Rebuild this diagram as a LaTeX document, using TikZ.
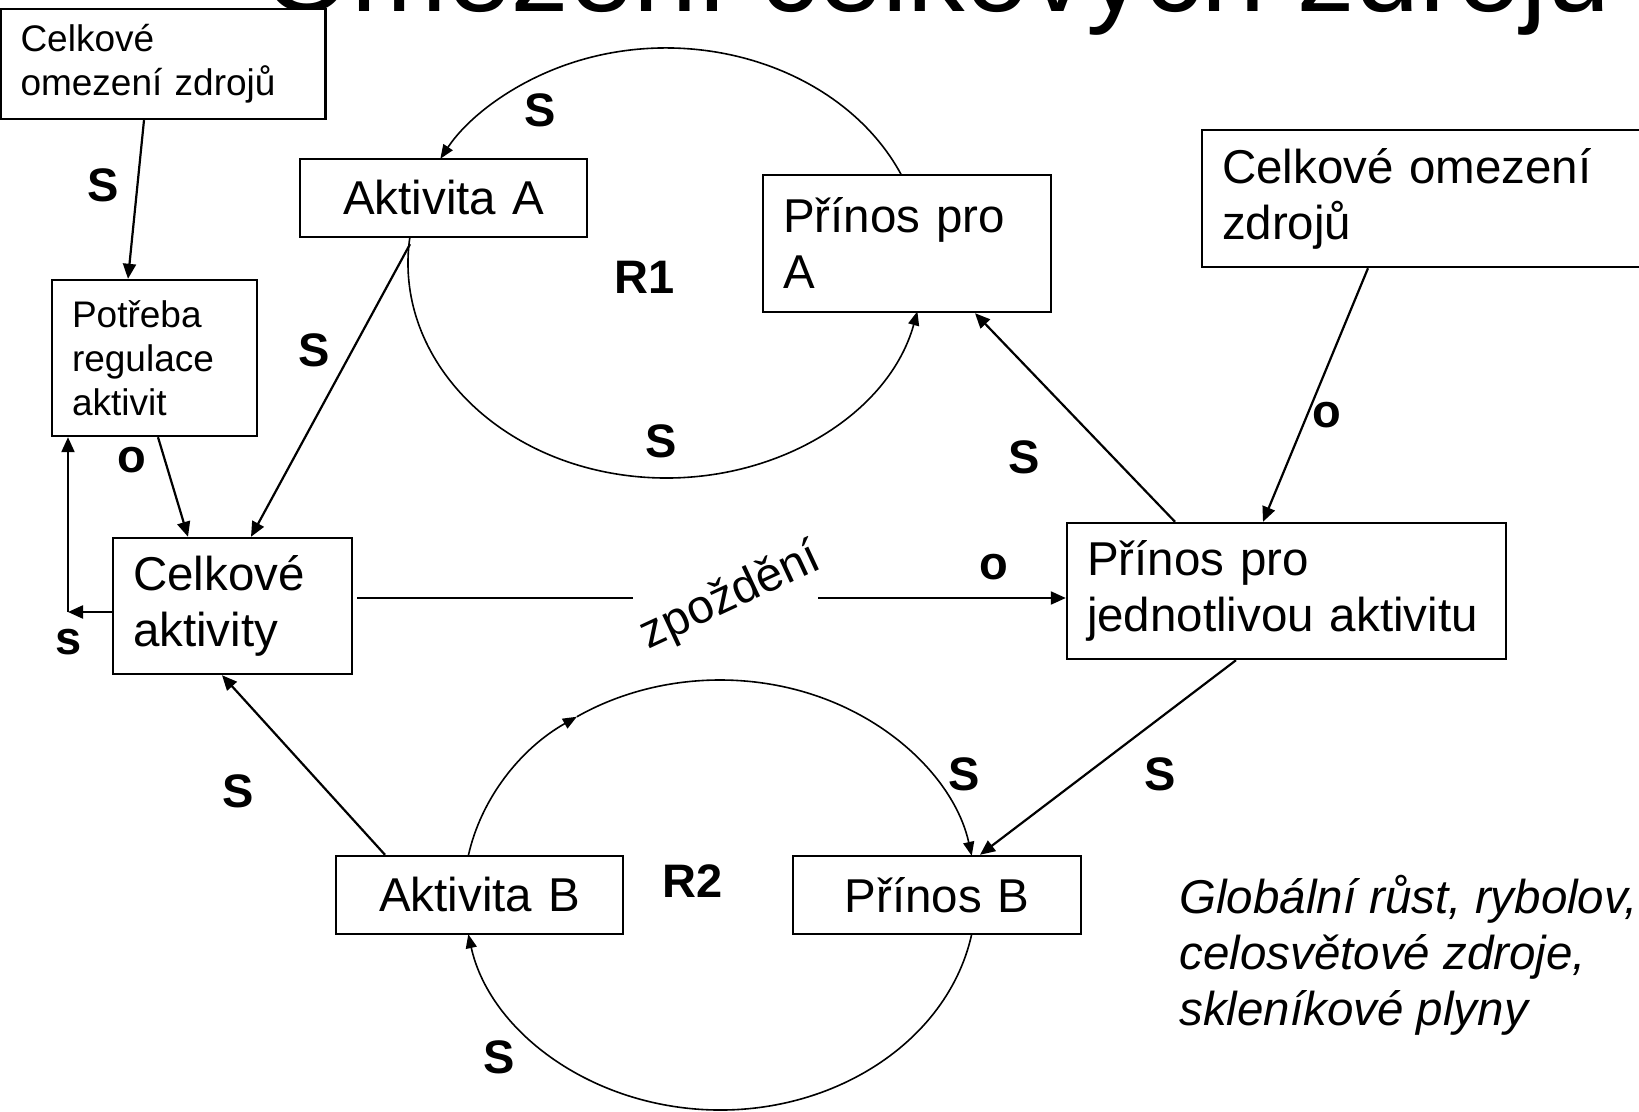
\documentclass[tikz,border=0pt]{standalone}
\usepackage{fontspec}
\setmainfont{Liberation Sans}
\usetikzlibrary{arrows.meta,calc}
\newcommand\mybig{\fontsize{23.75pt}{28pt}\selectfont}
\newcommand\mysmall{\fontsize{18.5pt}{22pt}\selectfont}
\newcommand\mylab{\fontsize{23.5pt}{28pt}\selectfont\bfseries}
\newcommand\mytitle{\fontsize{57.5pt}{60pt}\selectfont}
\begin{document}
\begin{tikzpicture}[x=0.5pt,y=0.5pt,
  box/.style={draw, line width=1.2pt, fill=white, inner xsep=10pt, inner ysep=0pt, align=left},
  cbox/.style={box, align=center},
  lab/.style={font=\mylab, inner sep=0pt},
  conn/.style={line width=1.1pt},
  arr/.style={line width=1.1pt, -{Triangle[length=7.5pt,width=6.5pt]}},
  arcarr/.style={line width=0.8pt, -{Triangle[length=7pt,width=5.5pt]}}]
\useasboundingbox (0,0) rectangle (1639,-1112);
\clip (0,0) rectangle (1639,-1112);
\fill[white] (0,0) rectangle (1639,-1112);

% title (cut off at top)
\node[anchor=base west, inner sep=0pt, font=\mytitle] (title) at (262,-12) {Omezení celkových zdrojů};

% boxes
\node[box, font=\mysmall, text width=142.5pt, minimum height=55pt] (tl) at (163,-64) {Celkové\\omezení zdrojů};
\node[box, font=\mysmall, text width=82.5pt, minimum height=78pt] (pot) at (154.5,-358) {Potřeba\\regulace\\aktivit};
\node[cbox, font=\mybig, text width=123.5pt, minimum height=39pt] (akta) at (443.5,-198) {Aktivita A};
\node[box, font=\mybig, text width=124pt, minimum height=68.5pt] (pra) at (907,-243.5) {Přínos pro\\A};
\node[box, font=\mybig, text width=209pt, minimum height=68.5pt] (rtl) at (1431,-198.5) {Celkové omezení\\zdrojů};
\node[box, font=\mybig, text width=99.5pt, minimum height=68pt] (ca) at (232.5,-606) {Celkové\\aktivity};
\node[box, font=\mybig, text width=199.5pt, minimum height=68pt] (pj) at (1286.5,-591) {Přínos pro\\jednotlivou aktivitu};
\node[cbox, font=\mybig, text width=123.5pt, minimum height=39pt] (aktb) at (479.5,-895) {Aktivita B};
\node[cbox, font=\mybig, text width=124pt, minimum height=39pt] (prb) at (937,-895) {Přínos B};

% note
\node[anchor=north west, inner sep=0pt, font=\mybig\itshape, align=left] (note) at (1179,-875) {Globální růst, rybolov,\\celosvětové zdroje,\\skleníkové plyny};

% delay label
\node[font=\mybig, rotate=25, inner sep=0pt] (zp) at (731,-597) {zpoždění};

% straight connectors
\draw[arr] ($(tl.south)+(-19,0)$) -- ($(pot.north)+(-26.5,0)$);
\draw[arr] ($(akta.south)+(-33.5,-6)$) -- ($(ca.north)+(18.5,0)$);
\draw[arr] ($(pot.south)+(3.5,0)$) -- ($(ca.north)+(-44.5,0)$);
\coordinate (corner) at (68,-612);
\draw[arr] ($(ca.west)+(0,-6)$) -- (corner);
\draw[arr] (corner) -- ($(pot.south)+(-86.5,0)$);
\coordinate (gl) at (633,-598);
\coordinate (gr) at (818,-598);
\draw[conn] ($(ca.east)+(4,8)$) -- (gl);
\draw[arr] (gr) -- ($(pj.west)+(0,-7)$);
\draw[arr] ($(pj.north)+(-111.5,0)$) -- ($(pra.south)+(68,0)$);
\draw[arr] ($(rtl.south)+(-63,0)$) -- ($(pj.north)+(-23.5,0)$);
\draw[arr] ($(pj.south)+(-50.5,0)$) -- ($(prb.north)+(43,0)$);
\draw[arr] ($(aktb.north)+(-94.5,0)$) -- ($(ca.south)+(-10.5,0)$);

% loop R1
\coordinate (r1) at (666,-263);
\draw[arcarr] ($(r1)+(24:129pt and 107.5pt)$) arc[start angle=24, end angle=151, x radius=129pt, y radius=107.5pt];
\draw[arcarr] ($(r1)+(173:129pt and 107.5pt)$) arc[start angle=173, end angle=347, x radius=129pt, y radius=107.5pt];

% loop R2
\coordinate (r2) at (720,-895);
\draw[arcarr] ($(r2)+(169.5:128pt and 107.5pt)$) arc[start angle=169.5, end angle=124, x radius=128pt, y radius=107.5pt];
\draw[arcarr] ($(r2)+(124:128pt and 107.5pt)$) arc[start angle=124, end angle=10.5, x radius=128pt, y radius=107.5pt];
\draw[arcarr] ($(r2)+(-10.5:128pt and 107.5pt)$) arc[start angle=-10.5, end angle=-169.5, x radius=128pt, y radius=107.5pt];

% polarity labels
\node[lab] (l1) at (103,-185) {S};
\node[lab] (l2) at (540,-110) {S};
\node[lab] (l3) at (645,-277) {R1};
\node[lab] (l4) at (314,-350) {S};
\node[lab] (l5) at (132,-460) {o};
\node[lab] (l6) at (661,-441) {S};
\node[lab] (l7) at (1024,-457) {S};
\node[lab] (l8) at (1327,-415) {o};
\node[lab] (l9) at (994,-567) {o};
\node[lab] (l10) at (69,-642) {s};
\node[lab] (l11) at (238,-791) {S};
\node[lab] (l12) at (964,-774) {S};
\node[lab] (l13) at (1160,-774) {S};
\node[lab] (l14) at (693,-881) {R2};
\node[lab] (l15) at (499,-1057) {S};
\end{tikzpicture}
\end{document}
